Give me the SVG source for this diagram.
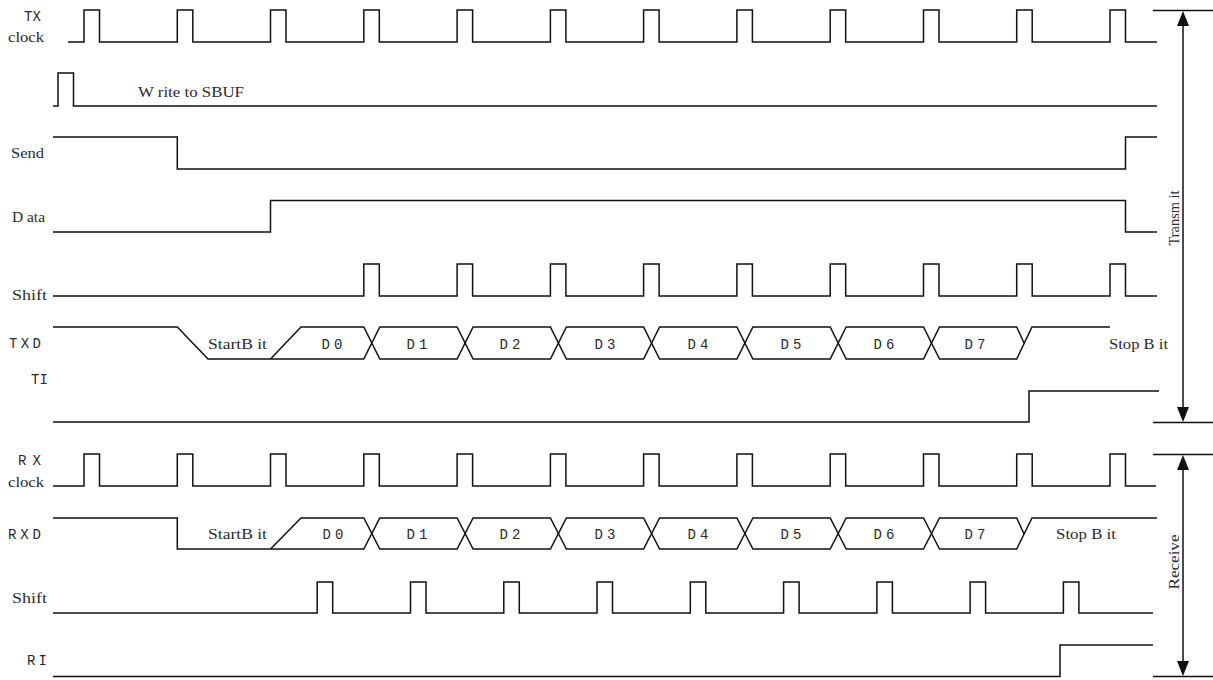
<svg xmlns="http://www.w3.org/2000/svg" width="1213" height="680" viewBox="0 0 1213 680">
<style>
.w{fill:none;stroke:#111;stroke-width:1.5;stroke-linejoin:miter}
.s{font-family:"Liberation Serif","DejaVu Serif",serif;font-size:14px;fill:#2a2a2a}
.m{font-family:"Liberation Mono","DejaVu Sans Mono",monospace;font-size:14px;fill:#2a2a2a}
.c{text-anchor:middle}
.ah{fill:#111}
</style>
<rect width="1213" height="680" fill="#fff"/>

<g id="txclock">
<text class="m" x="24" y="21" textLength="17" lengthAdjust="spacing">TX</text>
<text class="s" x="8" y="42" textLength="36" lengthAdjust="spacingAndGlyphs">clock</text>
<path class="w" d="M68,42 H84 V10 H99.5 V42 H177.3 V10 H192.8 V42 H270.5 V10 H286 V42 H363.8 V10 H379.3 V42 H457.1 V10 H472.6 V42 H550.4 V10 H565.9 V42 H643.6 V10 H659.1 V42 H736.9 V10 H752.4 V42 H830.2 V10 H845.7 V42 H923.5 V10 H939 V42 H1016.7 V10 H1032.2 V42 H1110 V10 H1125.5 V42 H1157"/>
</g>

<g id="write">
<path class="w" d="M53,106 H58 V73 H73.5 V106 H1157"/>
<text class="s" x="138" y="97" textLength="106" lengthAdjust="spacingAndGlyphs">W rite to SBUF</text>
</g>

<g id="send">
<text class="s" x="11" y="158" textLength="33" lengthAdjust="spacingAndGlyphs">Send</text>
<path class="w" d="M53,137 H177.3 V169 H1125.5 V137 H1157"/>
</g>

<g id="data">
<text class="s" x="12" y="222" textLength="33" lengthAdjust="spacingAndGlyphs">D ata</text>
<path class="w" d="M53,232 H270.5 V200.5 H1125.5 V232 H1157"/>
</g>

<g id="txshift">
<text class="s" x="12" y="300" textLength="35" lengthAdjust="spacingAndGlyphs">Shift</text>
<path class="w" d="M53,296 H363.8 V264 H379.3 V296 H457.1 V264 H472.6 V296 H550.4 V264 H565.9 V296 H643.6 V264 H659.1 V296 H736.9 V264 H752.4 V296 H830.2 V264 H845.7 V296 H923.5 V264 H939 V296 H1016.7 V264 H1032.2 V296 H1110 V264 H1125.5 V296 H1157"/>
</g>

<g id="txd">
<text class="m" x="9" y="348" textLength="32" lengthAdjust="spacing">TXD</text>
<path class="w" d="M53,327 H177.3 L208,359 H363.8 L379.8,327 H457.1 L473.1,359 H550.4 L566.4,327 H643.6 L659.6,359 H736.9 L752.9,327 H830.2 L846.2,359 H923.5 L939.5,327 H1016.7 L1024,343"/>
<path class="w" d="M270.5,359 L301,327 H363.8 L379.8,359 H457.1 L473.1,327 H550.4 L566.4,359 H643.6 L659.6,327 H736.9 L752.9,359 H830.2 L846.2,327 H923.5 L939.5,359 H1016.7 L1032,327 H1110"/>
<text class="s" x="208" y="349" textLength="59" lengthAdjust="spacingAndGlyphs">StartB it</text>
<text class="m c" x="332" y="349" textLength="21" lengthAdjust="spacing">D0</text>
<text class="m c" x="417" y="349" textLength="21" lengthAdjust="spacing">D1</text>
<text class="m c" x="510" y="349" textLength="21" lengthAdjust="spacing">D2</text>
<text class="m c" x="605" y="349" textLength="21" lengthAdjust="spacing">D3</text>
<text class="m c" x="698" y="349" textLength="21" lengthAdjust="spacing">D4</text>
<text class="m c" x="791" y="349" textLength="21" lengthAdjust="spacing">D5</text>
<text class="m c" x="884" y="349" textLength="21" lengthAdjust="spacing">D6</text>
<text class="m c" x="975" y="349" textLength="21" lengthAdjust="spacing">D7</text>
<text class="s" x="1109" y="349" textLength="59" lengthAdjust="spacingAndGlyphs">Stop B it</text>
</g>

<g id="ti">
<text class="m" x="31" y="384" textLength="17" lengthAdjust="spacing">TI</text>
<path class="w" d="M53,422 H1029 V391 H1159"/>
</g>

<g id="rxclock">
<text class="m" x="18" y="465" textLength="23" lengthAdjust="spacing">RX</text>
<text class="s" x="8" y="487" textLength="36" lengthAdjust="spacingAndGlyphs">clock</text>
<path class="w" d="M53,486 H84 V454 H99.5 V486 H177.3 V454 H192.8 V486 H270.5 V454 H286 V486 H363.8 V454 H379.3 V486 H457.1 V454 H472.6 V486 H550.4 V454 H565.9 V486 H643.6 V454 H659.1 V486 H736.9 V454 H752.4 V486 H830.2 V454 H845.7 V486 H923.5 V454 H939 V486 H1016.7 V454 H1032.2 V486 H1110 V454 H1125.5 V486 H1156"/>
</g>

<g id="rxd">
<text class="m" x="8" y="539" textLength="33" lengthAdjust="spacing">RXD</text>
<path class="w" d="M53,518 H177.3 V549 H363.8 L379.8,518 H457.1 L473.1,549 H550.4 L566.4,518 H643.6 L659.6,549 H736.9 L752.9,518 H830.2 L846.2,549 H923.5 L939.5,518 H1016.7 L1024,534"/>
<path class="w" d="M270.5,549 L301,518 H363.8 L379.8,549 H457.1 L473.1,518 H550.4 L566.4,549 H643.6 L659.6,518 H736.9 L752.9,549 H830.2 L846.2,518 H923.5 L939.5,549 H1016.7 L1032,518 H1157"/>
<text class="s" x="208" y="539" textLength="59" lengthAdjust="spacingAndGlyphs">StartB it</text>
<text class="m c" x="333" y="539" textLength="21" lengthAdjust="spacing">D0</text>
<text class="m c" x="417" y="539" textLength="21" lengthAdjust="spacing">D1</text>
<text class="m c" x="510" y="539" textLength="21" lengthAdjust="spacing">D2</text>
<text class="m c" x="605" y="539" textLength="21" lengthAdjust="spacing">D3</text>
<text class="m c" x="698" y="539" textLength="21" lengthAdjust="spacing">D4</text>
<text class="m c" x="791" y="539" textLength="21" lengthAdjust="spacing">D5</text>
<text class="m c" x="884" y="539" textLength="21" lengthAdjust="spacing">D6</text>
<text class="m c" x="975" y="539" textLength="21" lengthAdjust="spacing">D7</text>
<text class="s" x="1056" y="539" textLength="60" lengthAdjust="spacingAndGlyphs">Stop B it</text>
</g>

<g id="rxshift">
<text class="s" x="12" y="603" textLength="35" lengthAdjust="spacingAndGlyphs">Shift</text>
<path class="w" d="M53,613 H317.2 V582 H332.7 V613 H410.5 V582 H426 V613 H503.8 V582 H519.3 V613 H597 V582 H612.5 V613 H690.3 V582 H705.8 V613 H783.6 V582 H799.1 V613 H876.9 V582 H892.4 V613 H970.1 V582 H985.6 V613 H1063.4 V582 H1078.9 V613 H1153"/>
</g>

<g id="ri">
<text class="m" x="27" y="665" textLength="20" lengthAdjust="spacing">RI</text>
<path class="w" d="M53,676.5 H1060 V645 H1153"/>
</g>

<g id="connectors">
<path class="w" d="M1153,10.5 H1213 M1153,422.5 H1213 M1153,454.5 H1213 M1153,676.5 H1213"/>
<line class="w" x1="1183" y1="20" x2="1183" y2="412"/>
<polygon class="ah" points="1183,11 1189,26 1177,26"/>
<polygon class="ah" points="1183,422 1189,407 1177,407"/>
<line class="w" x1="1183" y1="464" x2="1183" y2="666"/>
<polygon class="ah" points="1183,455 1189,470 1177,470"/>
<polygon class="ah" points="1183,676 1189,661 1177,661"/>
<text class="s c" transform="translate(1179,218) rotate(-90)" textLength="55" lengthAdjust="spacingAndGlyphs">Transm it</text>
<text class="s c" transform="translate(1179,562) rotate(-90)" textLength="55" lengthAdjust="spacingAndGlyphs">Receive</text>
</g>
</svg>
